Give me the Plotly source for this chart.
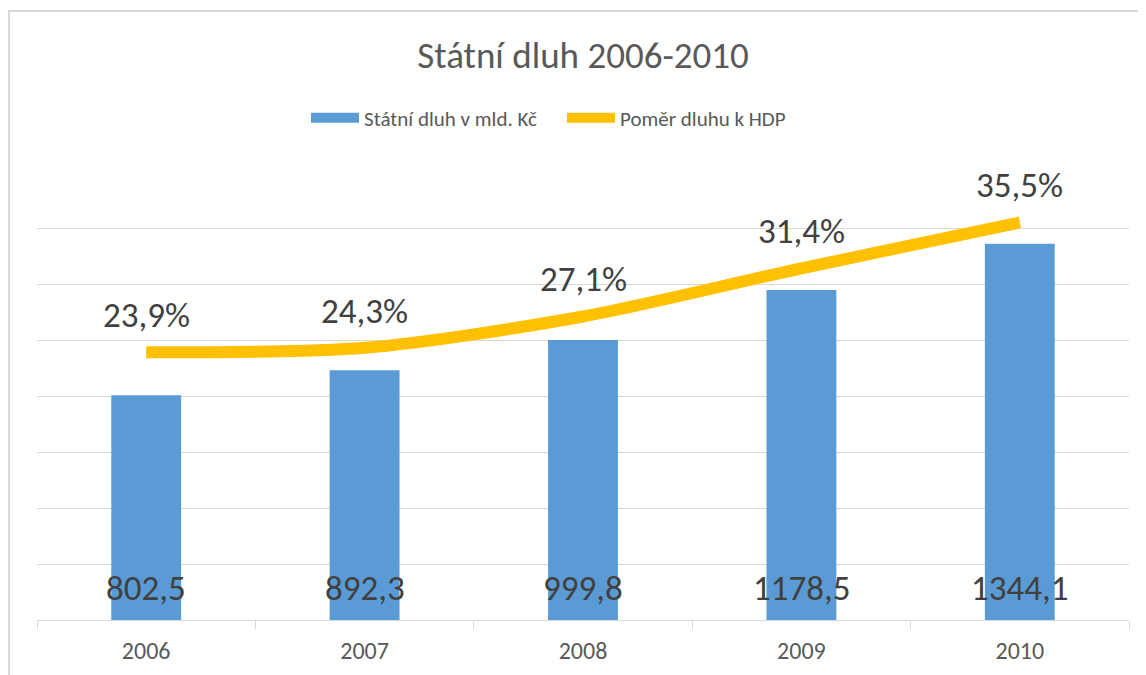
import plotly.graph_objects as go

years = ["2006", "2007", "2008", "2009", "2010"]
debt = [802.5, 892.3, 999.8, 1178.5, 1344.1]
ratio = [23.9, 24.3, 27.1, 31.4, 35.5]
debt_labels = ["802,5", "892,3", "999,8", "1178,5", "1344,1"]
ratio_labels = ["23,9%", "24,3%", "27,1%", "31,4%", "35,5%"]

FONT = "Carlito, Lato, 'Open Sans', sans-serif"
GRID = "#d9d9d9"
BLUE = "#5B9BD5"
GOLD = "#FFC000"

# page offset of the figure (default body margin) is 8px
W, H = 1146, 675
L, T = 29, 164          # plot area left/top inside the figure
PW, PH = 1092, 448      # plot area width/height

fig = go.Figure()
fig.add_trace(go.Bar(
    x=years, y=debt, name="Státní dluh v mld. Kč",
    marker=dict(color=BLUE, line=dict(width=0)),
    hoverinfo="skip", showlegend=False,
))
# legend entry with a wide swatch for the bar series
fig.add_trace(go.Scatter(
    x=[None], y=[None], name="Státní dluh v mld. Kč", mode="lines",
    line=dict(color=BLUE, width=14), hoverinfo="skip",
))
fig.add_trace(go.Scatter(
    x=years, y=ratio, name="Poměr dluhu k HDP", yaxis="y2",
    mode="lines", line=dict(color=GOLD, width=12, shape="spline", smoothing=0.8),
    hoverinfo="skip",
))

annotations = []
for i, (v, lab) in enumerate(zip(debt, debt_labels)):
    annotations.append(dict(x=i, y=0, xref="x", yref="y", text=lab, showarrow=False,
                            yanchor="middle", yshift=32,
                            font=dict(family=FONT, size=35, color="#404040")))
for i, (v, lab) in enumerate(zip(ratio, ratio_labels)):
    annotations.append(dict(x=i, y=v, xref="x", yref="y2", text=lab, showarrow=False,
                            yanchor="middle", yshift=37,
                            font=dict(family=FONT, size=35, color="#404040")))

fig.update_layout(
    width=W, height=H,
    margin=dict(l=L, r=W - L - PW, t=T, b=H - T - PH),
    paper_bgcolor="white", plot_bgcolor="white",
    font=dict(family=FONT, color="#595959"),
    title=dict(text="Státní dluh 2006-2010", x=0.5, xref="paper", y=1 - 47 / H,
               yref="container", xanchor="center", yanchor="middle",
               font=dict(family=FONT, size=37, color="#595959")),
    legend=dict(orientation="h", x=(562 - 37) / PW, xanchor="center", xref="paper",
                y=1 - 110 / H, yref="container", yanchor="middle",
                font=dict(family=FONT, size=21, color="#595959"),
                itemwidth=48, tracegroupgap=0,
                entrywidth=193, entrywidthmode="pixels"),
    bargap=0.68,
    showlegend=True,
    xaxis=dict(type="category", range=[-0.5, len(years) - 0.5],
               showline=True, linecolor=GRID, linewidth=1,
               ticks="outside", tickson="boundaries", ticklen=8, tickcolor=GRID,
               ticklabelstandoff=9,
               tickfont=dict(family=FONT, size=24, color="#595959"),
               showgrid=False),
    yaxis=dict(range=[0, 1600], dtick=200, showgrid=True, gridcolor=GRID, gridwidth=1,
               showticklabels=False, zeroline=False),
    yaxis2=dict(range=[0, 40], overlaying="y", side="right", showgrid=False,
                showticklabels=False, zeroline=False),
    annotations=annotations,
    shapes=[dict(type="rect", xref="paper", yref="paper",
                 x0=(1 - L) / PW, x1=(W + 20 - L) / PW,
                 y0=(T + PH - 3) / PH, y1=(T + PH - H - 20) / PH,
                 line=dict(color="#d9d9d9", width=2), layer="below")],
)

fig.write_html("out.html")
